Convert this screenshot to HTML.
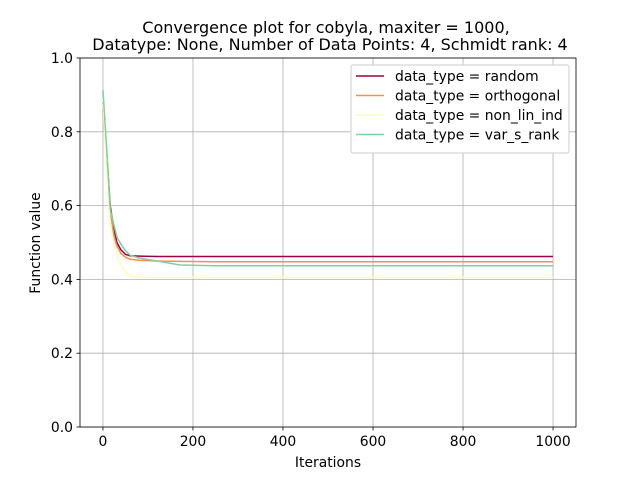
<!DOCTYPE html>
<html><head><meta charset="utf-8"><style>body{margin:0;background:#fff}svg{font-family:"DejaVu Sans","Liberation Sans",sans-serif}</style></head>
<body>
<svg id="c" width="640" height="480"></svg>
<script>
const iters = [0, 8, 16, 24, 31, 40, 50, 60, 80, 120, 171, 250, 500, 1000];
const seriesNames = ["data_type = random","data_type = orthogonal","data_type = non_lin_ind","data_type = var_s_rank"];
const randomVals = [0.88, 0.75, 0.60, 0.54, 0.50, 0.480, 0.468, 0.464, 0.463, 0.462, 0.462, 0.462, 0.462, 0.462];
const orthogonalVals = [0.86, 0.74, 0.59, 0.52, 0.49, 0.470, 0.460, 0.455, 0.452, 0.450, 0.449, 0.448, 0.448, 0.448];
const nonLinVals = [0.89, 0.70, 0.55, 0.50, 0.47, 0.440, 0.420, 0.410, 0.406, 0.405, 0.405, 0.405, 0.405, 0.405];
const varSRankVals = [0.913, 0.76, 0.59, 0.55, 0.515, 0.495, 0.478, 0.466, 0.458, 0.450, 0.439, 0.437, 0.437, 0.437];
const colors = ["#9e0142","#f98e52","#ffffbe","#7fcfa4"];
const xTicks = [0,200,400,600,800,1000];
const yTicks = [0.0,0.2,0.4,0.6,0.8,1.0];
const NS="http://www.w3.org/2000/svg";
const svg=document.getElementById('c');
const L=80,R=576,T=58,B=427,xmin=-51,xmax=1051;
const X=v=>L+(v-xmin)/(xmax-xmin)*(R-L);
const Y=v=>B-v*(B-T);
function el(t,a,p){const e=document.createElementNS(NS,t);for(const k in a)e.setAttribute(k,a[k]);(p||svg).appendChild(e);return e;}
xTicks.forEach(t=>{const g=el('line',{x1:X(t),x2:X(t),y1:T,y2:B,stroke:'#b0b0b0','stroke-width':0.8});


el('line',{x1:X(t),x2:X(t),y1:B,y2:B+3.5,stroke:'#000','stroke-width':0.8});
const tx=el('text',{x:X(t),y:B+19,'text-anchor':'middle','font-size':13.9});tx.textContent=t;

});
yTicks.forEach(t=>{const g=el('line',{x1:L,x2:R,y1:Y(t),y2:Y(t),stroke:'#b0b0b0','stroke-width':0.8});


el('line',{x1:L-3.5,x2:L,y1:Y(t),y2:Y(t),stroke:'#000','stroke-width':0.8});
const tx=el('text',{x:L-7,y:Y(t)+5,'text-anchor':'end','font-size':13.9});tx.textContent=t.toFixed(1);

});
const all=[randomVals,orthogonalVals,nonLinVals,varSRankVals];
all.forEach((vals,i)=>{const p=el('polyline',{points:iters.map((x,j)=>X(x)+','+Y(vals[j])).join(' '),fill:'none',stroke:colors[i],'stroke-width':1.5});

});
const fr=el('rect',{x:L,y:T,width:R-L,height:B-T,fill:'none',stroke:'#000','stroke-width':0.8});


const lg=el('g',{});


el('rect',{x:351,y:65,width:218,height:88,fill:'#fff',stroke:'#ccc',rx:2},lg);
seriesNames.forEach((n,i)=>{const y=76+i*19.5;
el('line',{x1:356,x2:384,y1:y,y2:y,stroke:colors[i],'stroke-width':1.5},lg);
const t=el('text',{x:395,y:y+5,'font-size':13.9},lg);t.textContent=n;

});
function txt(s,x,y,sz,rot,name){const t=el('text',{x,y,'font-size':sz,'text-anchor':'middle'});if(rot)t.setAttribute('transform',`rotate(-90 ${x} ${y})`);t.textContent=s;

}
txt('Convergence plot for cobyla, maxiter = 1000,',326,33,16,0,'chart-title-line1');
txt('Datatype: None, Number of Data Points: 4, Schmidt rank: 4',330,50,16,0,'chart-title-line2');
txt('Iterations',328,467,13.9,0,'x-axis-title');
txt('Function value',40,243,13.9,1,'y-axis-title');
</script>
</body></html>
